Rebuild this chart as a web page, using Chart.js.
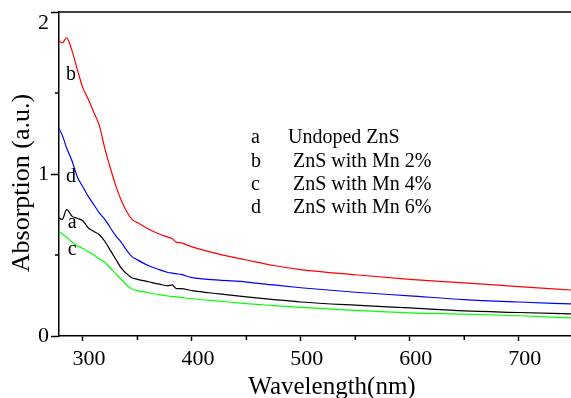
<!DOCTYPE html>
<html>
<head>
<meta charset="utf-8">
<script src="https://cdn.jsdelivr.net/npm/chart.js@4.4.1/dist/chart.umd.min.js"></script>
<style>
  html, body { margin: 0; padding: 0; background: #fff; }
  #wrap { width: 571px; height: 398px; }
</style>
</head>
<body>
<div id="wrap"><canvas id="absChart" width="571" height="398"></canvas></div>
<script>
// Wavelength (nm) sample points, shared by all curves
const wavelength = [277, 281, 285, 290, 295, 300, 305, 310, 315, 320, 325, 330, 335, 340, 345, 350,
  360, 370, 378, 382, 386, 390, 400, 425, 450, 475, 500, 550, 600, 650, 700, 748];

// a - Undoped ZnS (black)
const undoped = [0.735, 0.72, 0.78, 0.74, 0.725, 0.71, 0.667, 0.645, 0.625, 0.585, 0.53, 0.475, 0.42, 0.385, 0.36, 0.35,
  0.335, 0.32, 0.31, 0.315, 0.292, 0.292, 0.28, 0.26, 0.241, 0.225, 0.21, 0.19, 0.173, 0.155, 0.145, 0.136];
// b - ZnS with Mn 2% (red)
const mn2 = [1.83, 1.81, 1.84, 1.76, 1.64, 1.53, 1.46, 1.38, 1.30, 1.16, 1.04, 0.93, 0.84, 0.77, 0.72, 0.70,
  0.66, 0.63, 0.61, 0.60, 0.578, 0.575, 0.55, 0.505, 0.469, 0.435, 0.41, 0.378, 0.35, 0.328, 0.305, 0.284];
// c - ZnS with Mn 4% (green)
const mn4 = [0.654, 0.63, 0.61, 0.58, 0.555, 0.54, 0.52, 0.50, 0.475, 0.455, 0.42, 0.385, 0.35, 0.315, 0.29, 0.28,
  0.267, 0.255, 0.247, 0.244, 0.241, 0.238, 0.23, 0.215, 0.2, 0.188, 0.177, 0.158, 0.143, 0.135, 0.125, 0.112];
// d - ZnS with Mn 6% (blue)
const mn6 = [1.29, 1.24, 1.16, 1.08, 0.98, 0.92, 0.86, 0.81, 0.76, 0.72, 0.67, 0.62, 0.58, 0.53, 0.49, 0.47,
  0.435, 0.41, 0.392, 0.388, 0.384, 0.38, 0.36, 0.345, 0.333, 0.315, 0.298, 0.27, 0.248, 0.225, 0.21, 0.198];

const xTicks = [300, 400, 500, 600, 700];
const xMinorTicks = [350, 450, 550, 650];
const yTicks = [0, 1, 2];
const yMinorTicks = [0.5, 1.5];

const legendKeys = ['a', 'b', 'c', 'd'];
const legendNames = ['Undoped ZnS', 'ZnS with Mn 2%', 'ZnS with Mn 4%', 'ZnS with Mn 6%'];

// curve tags placed in data space: [letter, wavelength, absorption]
const curveTags = [['b', 289, 1.61], ['d', 289, 0.98], ['a', 290, 0.70], ['c', 290, 0.53]];

const serif = '"Liberation Serif", "Times New Roman", serif';

function toPoints(ys) {
  return wavelength.map((x, i) => ({ x: x, y: ys[i] }));
}

function line(label, ys, color) {
  return {
    label: label,
    data: toPoints(ys),
    borderColor: color,
    borderWidth: 1.2,
    pointRadius: 0,
    fill: false,
    cubicInterpolationMode: 'monotone'
  };
}

// extra drawing: top frame line, minor ticks, tick numbers, axis titles,
// curve letters and the text legend
const decorations = {
  id: 'decorations',
  afterDraw(chart) {
    const { ctx, chartArea, scales } = chart;
    const x = scales.x, y = scales.y;
    ctx.save();
    ctx.strokeStyle = '#000';
    ctx.lineWidth = 1.5;

    ctx.beginPath();
    ctx.moveTo(chartArea.left, chartArea.top);
    ctx.lineTo(chart.width, chartArea.top);
    ctx.stroke();

    ctx.beginPath();
    xMinorTicks.forEach(v => {
      const px = x.getPixelForValue(v);
      ctx.moveTo(px, chartArea.bottom);
      ctx.lineTo(px, chartArea.bottom + 4);
    });
    yMinorTicks.forEach(v => {
      const py = y.getPixelForValue(v);
      ctx.moveTo(chartArea.left, py);
      ctx.lineTo(chartArea.left - 4, py);
    });
    ctx.stroke();

    ctx.fillStyle = '#000';
    ctx.font = '22px ' + serif;

    // y tick numbers (top one pushed down so it stays inside the canvas)
    ctx.textAlign = 'right';
    ctx.textBaseline = 'middle';
    yTicks.forEach(v => {
      const py = Math.max(y.getPixelForValue(v), chartArea.top + 11);
      ctx.fillText(String(v), chartArea.left - 10, py);
    });

    // x tick numbers, set slightly right of their ticks as in the original
    ctx.textAlign = 'center';
    ctx.textBaseline = 'alphabetic';
    xTicks.forEach(v => {
      ctx.fillText(String(v), x.getPixelForValue(v) + 6, chartArea.bottom + 29);
    });

    // axis titles
    ctx.font = '25px ' + serif;
    ctx.fillText('Wavelength(nm)', 332, 394);
    ctx.save();
    ctx.translate(29, 183);
    ctx.rotate(-Math.PI / 2);
    ctx.font = '26px ' + serif;
    ctx.fillText('Absorption (a.u.)', 0, 0);
    ctx.restore();

    ctx.textBaseline = 'middle';
    ctx.font = '20px ' + serif;
    curveTags.forEach(([t, wx, wy]) => {
      ctx.fillText(t, x.getPixelForValue(wx), y.getPixelForValue(wy));
    });

    ctx.textAlign = 'left';
    legendKeys.forEach((k, i) => {
      const rowY = 138 + i * 23.3;
      ctx.fillText(k, 251, rowY);
      ctx.fillText(legendNames[i], i === 0 ? 288 : 293, rowY);
    });
    ctx.restore();
  }
};

new Chart(document.getElementById('absChart').getContext('2d'), {
  type: 'line',
  data: {
    datasets: [
      line('a', undoped, '#000000'),
      line('b', mn2, '#ff0000'),
      line('c', mn4, '#00ff00'),
      line('d', mn6, '#0000ff')
    ]
  },
  options: {
    responsive: false,
    animation: false,
    layout: { padding: { top: 12, right: 0, left: 0, bottom: 0 } },
    plugins: { legend: { display: false }, tooltip: { enabled: false } },
    scales: {
      x: {
        type: 'linear',
        min: 278,
        max: 748,
        afterBuildTicks: s => { s.ticks = xTicks.map(v => ({ value: v })); },
        afterFit: s => { s.height = 62; },
        grid: { drawOnChartArea: false, drawTicks: true, tickLength: 5, tickWidth: 1.5, tickColor: '#000' },
        border: { color: '#000', width: 1.5 },
        ticks: { display: false },
        title: { display: false }
      },
      y: {
        type: 'linear',
        min: 0,
        max: 2,
        afterBuildTicks: s => { s.ticks = yTicks.map(v => ({ value: v })); },
        afterFit: s => { s.width = 59; },
        grid: { drawOnChartArea: false, drawTicks: true, tickLength: 8, tickWidth: 1.5, tickColor: '#000' },
        border: { color: '#000', width: 1.5 },
        ticks: { display: false },
        title: { display: false }
      }
    }
  },
  plugins: [decorations]
});
</script>
</body>
</html>
